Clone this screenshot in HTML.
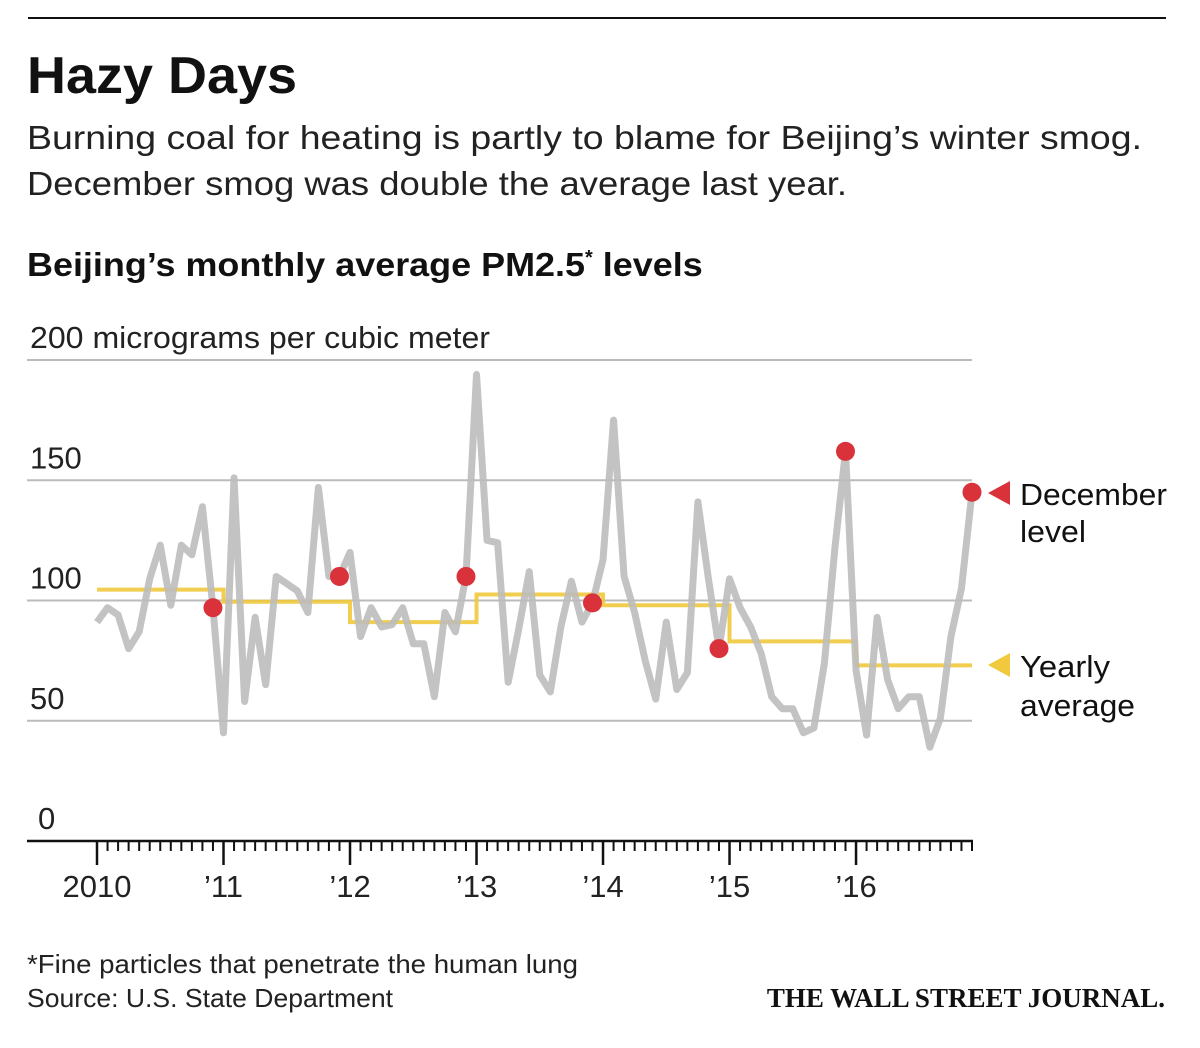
<!DOCTYPE html>
<html><head><meta charset="utf-8"><style>
body{margin:0;background:#fff;width:1200px;height:1043px;overflow:hidden}
svg text{font-family:"Liberation Sans",sans-serif}
</style></head><body>
<svg id="chart" width="1200" height="1043" viewBox="0 0 1200 1043">
<line x1="28" y1="18" x2="1166" y2="18" stroke="#111" stroke-width="2"/>
<text x="27" y="93" font-size="52" font-weight="bold" fill="#111" textLength="270" lengthAdjust="spacingAndGlyphs">Hazy Days</text>
<text x="27" y="149" font-size="33" fill="#222" textLength="1115" lengthAdjust="spacingAndGlyphs">Burning coal for heating is partly to blame for Beijing’s winter smog.</text>
<text x="27" y="195" font-size="33" fill="#222" textLength="820" lengthAdjust="spacingAndGlyphs">December smog was double the average last year.</text>
<text x="27" y="276" font-size="33" font-weight="bold" fill="#111"><tspan textLength="558" lengthAdjust="spacingAndGlyphs">Beijing’s monthly average PM2.5</tspan><tspan font-size="20" dy="-12">*</tspan><tspan dy="12" textLength="110" lengthAdjust="spacingAndGlyphs"> levels</tspan></text>
<g id="grid"></g>
<g id="series"></g>
<g id="axis"></g>
<polygon points="988,493 1010,481 1010,505" fill="#d9323a"/>
<text x="1020" y="505" font-size="31" fill="#111" textLength="147" lengthAdjust="spacingAndGlyphs">December</text>
<text x="1020" y="542" font-size="31" fill="#111" textLength="66" lengthAdjust="spacingAndGlyphs">level</text>
<polygon points="988,665 1010,653 1010,677" fill="#f0c93c"/>
<text x="1020" y="677" font-size="31" fill="#111" textLength="90" lengthAdjust="spacingAndGlyphs">Yearly</text>
<text x="1020" y="716" font-size="31" fill="#111" textLength="115" lengthAdjust="spacingAndGlyphs">average</text>
<text x="27" y="973" font-size="26" fill="#222" textLength="551" lengthAdjust="spacingAndGlyphs">*Fine particles that penetrate the human lung</text>
<text x="27" y="1007" font-size="26" fill="#222" textLength="366" lengthAdjust="spacingAndGlyphs">Source: U.S. State Department</text>
<text x="1165" y="1007" font-size="27" font-weight="bold" text-anchor="end" fill="#111" style="font-family:'Liberation Serif',serif">THE WALL STREET JOURNAL.</text>
</svg>
<script>
const monthly = [91,97,94,80,87,109,123,98,123,119,139,97,
45,151,58,93,65,110,107,104,95,147,110,110,
120,85,97,89,90,97,82,82,60,95,87,110,
194,125,124,66,88,112,69,62,89,108,91,99,
117,175,110,95,75,59,91,63,70,141,109,80,
109,97,89,78,60,55,55,45,47,74,122,162,
71,44,93,67,55,60,60,39,51,85,105,145];
const years = [2010,2011,2012,2013,2014,2015,2016];
const yearlyAvg = [104.5,99.5,91,102.5,98,83,73];
const yTicks = [0,50,100,150,200];
const yearLabels = ['2010','’11','’12','’13','’14','’15','’16'];
const NS='http://www.w3.org/2000/svg';
const x0=97, mw=(972-97)/83;
const X=i=>x0+i*mw;
const Y=v=>841-v*2.405;
function mk(t,a,p){const e=document.createElementNS(NS,t);for(const k in a)e.setAttribute(k,a[k]);p.appendChild(e);return e;}
const grid=document.getElementById('grid'),ser=document.getElementById('series'),ax=document.getElementById('axis');
yTicks.forEach(v=>{
 if(v>0){const l=mk('line',{x1:27,x2:972,y1:Y(v),y2:Y(v),stroke:'#bbb','stroke-width':2},grid);
 
 }
 const t=mk('text',{x:v==0?38:30,y:Y(v)-12,'font-size':31,fill:'#222'},grid);
 t.textContent=v==200?'200 micrograms per cubic meter':String(v);
 if(v==200){t.setAttribute('textLength',460);t.setAttribute('lengthAdjust','spacingAndGlyphs');}
 
 
});
let d='';
yearlyAvg.forEach((v,k)=>{const xs=X(k*12),xe=k==yearlyAvg.length-1?X(83):X((k+1)*12);d+=(k?'L':'M')+xs+' '+Y(v)+'L'+xe+' '+Y(v);});
const yl=mk('path',{d:d,fill:'none',stroke:'#f0c93c','stroke-width':4,opacity:0.9},ser);


const pts=monthly.map((v,i)=>X(i)+','+Y(v)).join(' ');
const ml=mk('polyline',{points:pts,fill:'none',stroke:'#bdbdbd','stroke-width':7,'stroke-linejoin':'round',opacity:0.9},ser);


years.forEach((yr,k)=>{const i=k*12+11;
 const c=mk('circle',{cx:X(i),cy:Y(monthly[i]),r:9.5,fill:'#d9323a'},ser);
 
 });
const al=mk('line',{x1:27,x2:973,y1:841,y2:841,stroke:'#111','stroke-width':2.5},ax);


for(let i=0;i<84;i++){const maj=i%12==0;
 const tk=mk('line',{x1:X(i),x2:X(i),y1:841,y2:maj?865:851,stroke:'#111','stroke-width':maj?2.5:2},ax);
 
 }
yearLabels.forEach((s,k)=>{const t=mk('text',{x:X(k*12),y:897,'font-size':31,'text-anchor':'middle',fill:'#222'},ax);
 t.textContent=s;
 
 });
</script>
</body></html>
